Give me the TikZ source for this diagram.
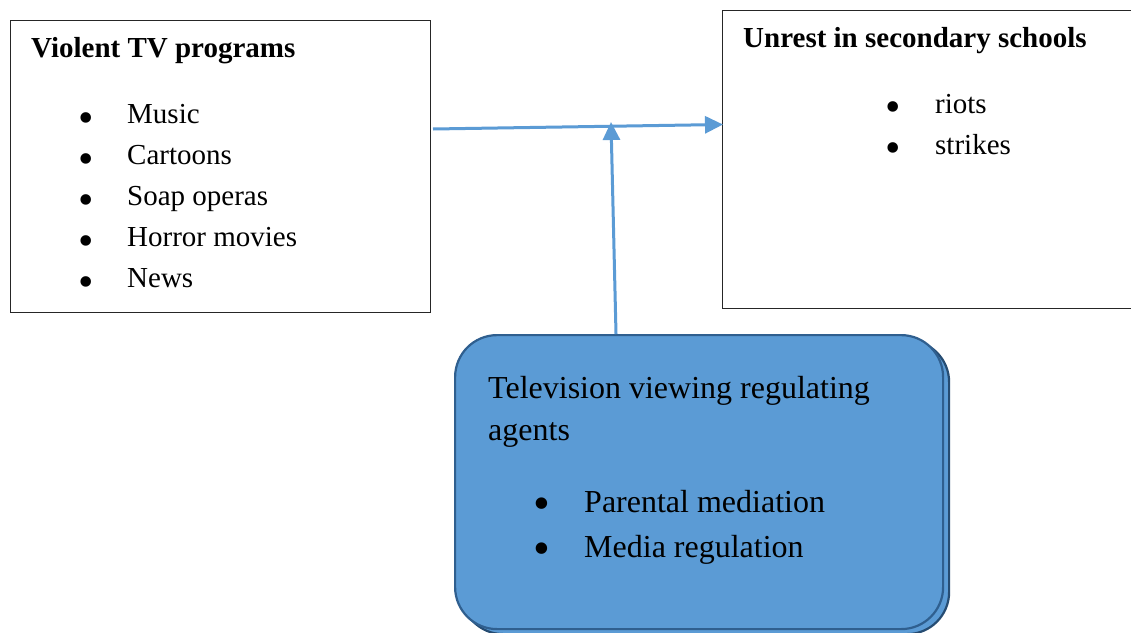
\documentclass[tikz,border=0pt]{standalone}
\usepackage{fontspec}
\setmainfont{Liberation Serif}
\usetikzlibrary{arrows.meta}
\definecolor{officeblue}{HTML}{5B9BD5}
\definecolor{blueedge}{HTML}{2F5F8F}
\begin{document}
\begin{tikzpicture}[x=1pt,y=-1pt,
  plainbox/.style={draw=black!85,line width=1.3pt,fill=white,anchor=north west,inner sep=0pt},
  agentbox/.style={draw=blueedge,line width=2.2pt,fill=officeblue,rounded corners=42pt,anchor=north west,inner sep=0pt,minimum width=488pt,minimum height=294pt},
  conn/.style={draw=officeblue,line width=3pt,-{Triangle[length=18pt,width=17pt]}},
  txt/.style={anchor=base west,inner sep=0pt,font=\fontsize{29}{34}\selectfont},
  bigtxt/.style={anchor=base west,inner sep=0pt,font=\fontsize{32}{38}\selectfont},
  dot/.style={anchor=center,inner sep=0pt,yshift=-6.5pt,font=\fontsize{44}{44}\selectfont},
  bigdot/.style={anchor=center,inner sep=0pt,yshift=-7pt,font=\fontsize{48}{48}\selectfont}]
\clip (0,0) rectangle (1131,632);
\fill[white] (0,0) rectangle (1131,632);
% left box
\node[plainbox,minimum width=420pt,minimum height=292pt] (tv) at (10,20) {};
\node[txt,font=\fontsize{29}{34}\selectfont\bfseries] (tvt) at (31,57) {Violent TV programs};
\node[dot] (b1) at (86,116) {•};
\node[txt] (l1) at (127,123) {Music};
\node[dot] (b2) at (86,157) {•};
\node[txt] (l2) at (127,164) {Cartoons};
\node[dot] (b3) at (86,198) {•};
\node[txt] (l3) at (127,205) {Soap operas};
\node[dot] (b4) at (86,239) {•};
\node[txt] (l4) at (127,246) {Horror movies};
\node[dot] (b5) at (86,280) {•};
\node[txt] (l5) at (127,287) {News};
% right box
\node[plainbox,minimum width=440pt,minimum height=298pt] (unrest) at (722,10) {};
\node[txt,font=\fontsize{29}{34}\selectfont\bfseries] (ut) at (743,47) {Unrest in secondary schools};
\node[dot] (r1b) at (893,105.5) {•};
\node[txt] (r1) at (935,113) {riots};
\node[dot] (r2b) at (893,146.5) {•};
\node[txt] (r2) at (935,154) {strikes};
% lower rounded box
\node[agentbox,draw=blueedge!80!black] (agshadow) at (460,339) {};
\node[agentbox] (agents) at (454,334) {};
\node[bigtxt] (at1) at (488,398) {Television viewing regulating};
\node[bigtxt] (at2) at (488,440) {agents};
\node[bigdot] (a1b) at (542,502) {•};
\node[bigtxt] (a1) at (584,512) {Parental mediation};
\node[bigdot] (a2b) at (542,547) {•};
\node[bigtxt] (a2) at (584,557) {Media regulation};
% connectors
\coordinate (hstart) at (433,129);
\coordinate (hend) at (723,124.5);
\coordinate (vstart) at (616,334);
\coordinate (vtip) at (611,122);
\draw[conn] (hstart) -- (hend);
\draw[conn] (vstart) -- (vtip);
\end{tikzpicture}
\end{document}
